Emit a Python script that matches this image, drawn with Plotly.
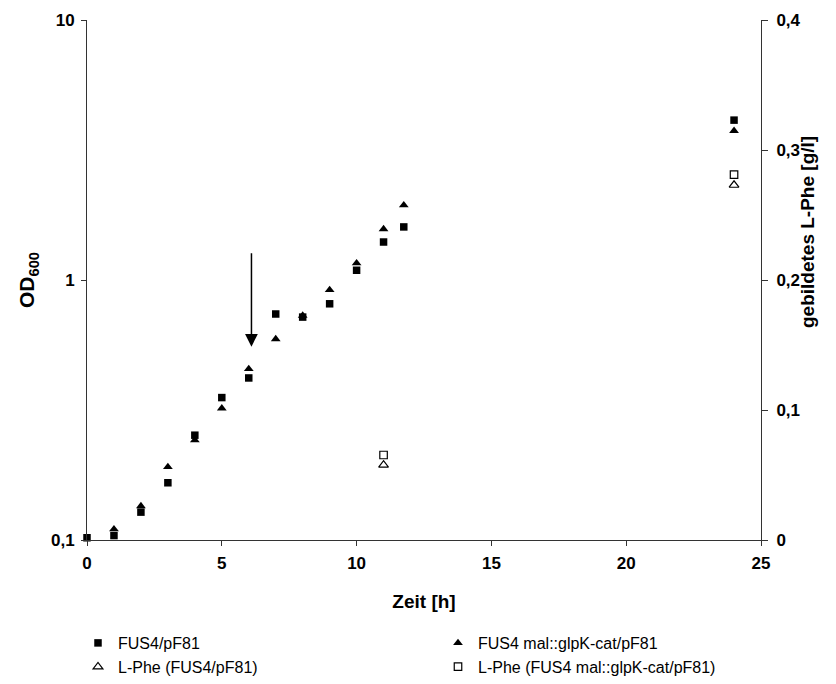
import math
import plotly.graph_objects as go

# ---- data ----
time_h = [0, 1, 2, 3, 4, 5, 6, 7, 8, 9, 10, 11, 11.75, 24]
od_fus4 = [0.102, 0.104, 0.128, 0.166, 0.253, 0.353, 0.42, 0.74, 0.72, 0.81, 1.09, 1.40, 1.60, 4.12]
od_mal = [None, 0.11, 0.135, 0.191, 0.242, 0.321, 0.455, 0.593, 0.73, 0.916, 1.16, 1.57, 1.94, 3.75]

phe_time_h = [11, 24]
phe_fus4 = [0.0577, 0.273]
phe_mal = [0.0654, 0.281]

x_ticks = [0, 5, 10, 15, 20, 25]
od_ticks = [0.1, 1, 10]
od_ticktext = ["0,1", "1", "10"]
phe_ticks = [0, 0.1, 0.2, 0.3, 0.4]
phe_ticktext = ["0", "0,1", "0,2", "0,3", "0,4"]

arrow_x = 6.1
arrow_tip_od = 0.554
arrow_tail_od = 1.285

names = ["FUS4/pF81", "FUS4 mal::glpK-cat/pF81",
         "L-Phe (FUS4/pF81)", "L-Phe (FUS4 mal::glpK-cat/pF81)"]
right_title = "gebildetes L-Phe [g/l]"

FONT = "Liberation Sans, Arial, sans-serif"
AX = "#333333"
TICKFONT = dict(size=17, family=FONT, weight="bold", color="black")

fig = go.Figure()
fig.add_trace(go.Scatter(x=time_h, y=od_fus4, mode="markers", name=names[0],
                         marker=dict(symbol="square", size=7.5, color="black"),
                         cliponaxis=False, legend="legend"))
fig.add_trace(go.Scatter(x=time_h, y=od_mal, mode="markers", name=names[1],
                         marker=dict(symbol="triangle-up", size=8.5, color="black"),
                         cliponaxis=False, legend="legend2"))
fig.add_trace(go.Scatter(x=phe_time_h, y=phe_fus4, mode="markers", name=names[2],
                         marker=dict(symbol="triangle-up-open", size=8.5, color="black",
                                     line=dict(width=1.2, color="black")),
                         yaxis="y2", cliponaxis=False, legend="legend"))
fig.add_trace(go.Scatter(x=phe_time_h, y=phe_mal, mode="markers", name=names[3],
                         marker=dict(symbol="square-open", size=7.5, color="black",
                                     line=dict(width=1.2, color="black")),
                         yaxis="y2", cliponaxis=False, legend="legend2"))

fig.add_annotation(x=arrow_x, y=math.log10(arrow_tip_od), ax=arrow_x, ay=math.log10(arrow_tail_od),
                   xref="x", yref="y", axref="x", ayref="y", text="", showarrow=True,
                   arrowhead=2, arrowsize=1.7, arrowwidth=1.5, arrowcolor="black", standoff=0)

# right axis title (placed slightly above centre, as in the original)
fig.add_annotation(text="<b>" + right_title + "</b>", textangle=-90, showarrow=False,
                   xref="paper", yref="paper", x=1.0 + 46 / 674, y=(540 - 232) / 520,
                   xanchor="center", yanchor="middle",
                   font=dict(size=19, family=FONT, color="black"))

legend_common = dict(orientation="v", yref="container", y=1 - 655 / 684, yanchor="middle",
                     xref="paper", xanchor="left", font=dict(size=16, family=FONT),
                     bgcolor="rgba(0,0,0,0)", traceorder="normal")

fig.update_layout(
    width=836, height=684, autosize=False,
    margin=dict(l=87, r=75, t=20, b=144),
    paper_bgcolor="white", plot_bgcolor="white",
    separators=",.",
    font=dict(family=FONT, color="black"),
    xaxis=dict(range=[0, 25], tickvals=x_ticks, ticks="outside", ticklen=5, tickcolor=AX,
               showline=True, linecolor=AX, linewidth=1, showgrid=False, zeroline=False,
               tickfont=TICKFONT, ticklabelstandoff=3, automargin=False,
               title=dict(text="<b>Zeit [h]</b>", font=dict(size=19, family=FONT), standoff=22)),
    yaxis=dict(type="log", range=[-1, 1], tickvals=od_ticks, ticktext=od_ticktext,
               ticks="outside", ticklen=5, tickcolor=AX, showline=True, linecolor=AX, linewidth=1,
               showgrid=False, zeroline=False, tickfont=TICKFONT, automargin=False,
               ticklabelstandoff=3,
               title=dict(text="<b>OD<sub>600</sub></b>", font=dict(size=21, family=FONT), standoff=10)),
    yaxis2=dict(overlaying="y", side="right", anchor="x", range=[0, 0.4], tickvals=phe_ticks,
                ticktext=phe_ticktext, ticks="outside", ticklen=6, tickcolor=AX,
                showline=True, linecolor=AX, linewidth=1, showgrid=False, zeroline=False,
                tickfont=TICKFONT, automargin=False, ticklabelstandoff=5),
    yaxis3=dict(overlaying="y", side="right", anchor="x", range=[0, 0.4], tickvals=phe_ticks,
                ticks="inside", ticklen=6, tickcolor=AX, showticklabels=False, automargin=False,
                showline=False, showgrid=False, zeroline=False),
    legend=dict(x=-9 / 674, **legend_common),
    legend2=dict(x=(438 - 87) / 674, **legend_common),
    showlegend=True,
)

fig.write_html("out.html")
